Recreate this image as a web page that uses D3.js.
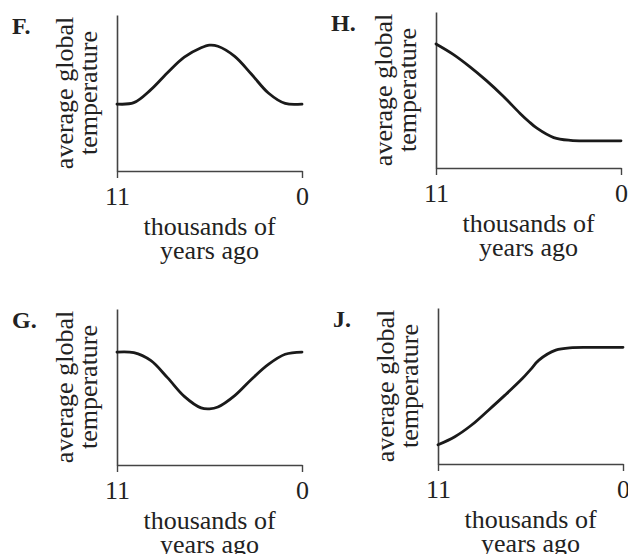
<!DOCTYPE html>
<html>
<head>
<meta charset="utf-8">
<script src="https://cdn.jsdelivr.net/npm/d3@7"></script>
<style>
  html, body { margin: 0; padding: 0; background: #fff; }
  svg { display: block; }
  text { font-family: "Liberation Serif", "Times New Roman", serif; fill: #222; }
</style>
</head>
<body>
<svg id="chart" width="628" height="554"></svg>
<script>
// ---- data ----
const panelLabels = ["F.", "H.", "G.", "J."];
const years = [11, 10, 9, 8, 7, 6, 5.5, 5, 4, 3, 2, 1, 0];        // thousands of years ago
const tempF = [4.29, 4.38, 5.2, 6.3, 7.3, 7.9, 8.07, 8.0, 7.35, 6.2, 5.0, 4.33, 4.29];
const tempH = [7.95, 7.3, 6.5, 5.6, 4.6, 3.5, 3.0, 2.55, 1.95, 1.77, 1.74, 1.74, 1.74];
const tempG = [7.24, 7.2, 6.7, 5.6, 4.4, 3.66, 3.6, 3.72, 4.45, 5.5, 6.45, 7.1, 7.24];
const tempJ = [1.23, 1.75, 2.5, 3.45, 4.43, 5.46, 6.05, 6.66, 7.3, 7.46, 7.48, 7.48, 7.48];
const xTicks = [11, 0];
const xTitle = ["thousands of", "years ago"];
const yTitle = ["average global", "temperature"];

// ---- layout ----
const svg = d3.select("#chart");
const PW = 185, PH = 156;
const panels = [
  { label: panelLabels[0], values: tempF, ox: 117, oy: 15 },
  { label: panelLabels[1], values: tempH, ox: 436, oy: 12 },
  { label: panelLabels[2], values: tempG, ox: 117, oy: 309 },
  { label: panelLabels[3], values: tempJ, ox: 438, oy: 308 }
];

const x = d3.scaleLinear().domain([11, 0]).range([0, PW]);
const y = d3.scaleLinear().domain([0, 10]).range([PH, 0]);

const line = d3.line()
  .x(d => x(d[0]))
  .y(d => y(d[1]))
  .curve(d3.curveCatmullRom.alpha(0.5));

panels.forEach(p => {
  const g = svg.append("g").attr("transform", `translate(${p.ox},${p.oy})`);

  // y axis (plain line, no ticks)
  const ya = g.append("g").call(d3.axisLeft(y).tickValues([]).tickSizeOuter(0));
  ya.select(".domain").attr("stroke", "#444").attr("stroke-width", 1.6);

  // x axis
  const xa = g.append("g")
    .attr("transform", `translate(0,${PH})`)
    .call(d3.axisBottom(x).tickValues(xTicks).tickSize(7).tickSizeOuter(0).tickPadding(9).tickFormat(d3.format("d")));
  xa.select(".domain").attr("stroke", "#444").attr("stroke-width", 1.6);
  xa.selectAll(".tick line").attr("stroke", "#444").attr("stroke-width", 1.4);
  xa.selectAll(".tick text")
    .attr("font-family", "Liberation Serif, Times New Roman, serif")
    .attr("font-size", 26)
    .attr("fill", "#222");

  // curve
  g.append("path")
    .datum(years.map((yr, i) => [yr, p.values[i]]))
    .attr("fill", "none")
    .attr("stroke", "#1a1a1a")
    .attr("stroke-width", 2.8)
    .attr("stroke-linecap", "round")
    .attr("d", line);

  // x title
  xTitle.forEach((t, i) => {
    g.append("text")
      .attr("x", PW / 2)
      .attr("y", PH + 64 + i * 24)
      .attr("text-anchor", "middle")
      .attr("font-size", 26)
      .text(t);
  });

  // y title (rotated)
  yTitle.forEach((t, i) => {
    g.append("text")
      .attr("transform", `translate(${-44 + i * 24},${PH / 2}) rotate(-90)`)
      .attr("text-anchor", "middle")
      .attr("font-size", 26)
      .text(t);
  });

  // panel letter
  g.append("text")
    .attr("x", -105)
    .attr("y", 19)
    .attr("font-size", 24)
    .attr("font-weight", "bold")
    .text(p.label);
});
</script>
</body>
</html>
